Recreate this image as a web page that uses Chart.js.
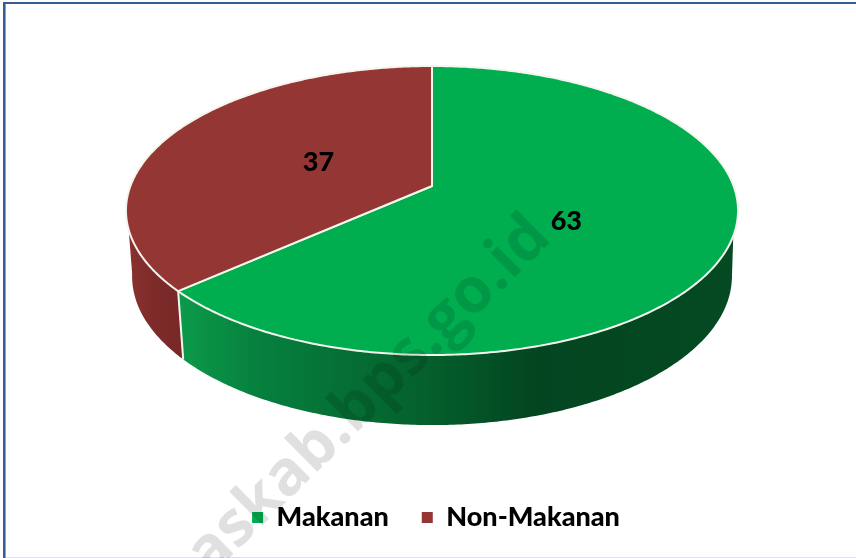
<!DOCTYPE html>
<html>
<head>
<meta charset="utf-8">
<style>html,body{margin:0;padding:0;background:#fff}canvas{display:block}</style>
<script src="https://cdn.jsdelivr.net/npm/chart.js@4/dist/chart.umd.js"></script>
</head>
<body>
<canvas id="c" width="856" height="558"></canvas>
<script>
const categories = ['Makanan', 'Non-Makanan'];
const values = [63, 37];
const topColors = ['#00AE50', '#943634'];
const watermark = 'askab.bps.go.id';

// projection of the flat pie onto the tilted disc
const CX = 432, APEX = 186, A = 301.6, B = 108.8, K = -0.1696, WARP = 1.8 * Math.PI / 180;
const rimScaleX = 0.98, rimScaleY = 1.03, rimShift = 65;
const labelRadius = [0.477, 0.42], labelShiftY = [6.5, 0];

function proj(a0, r) {
  const a = a0 + WARP * (1 + Math.sin(a0)) / 2;
  const u = Math.cos(a) * r, v = Math.sin(a) * r, w = 1 + K * v;
  return [CX + A * u / w, (B * v + APEX) / w];
}
function low(p) {
  return [CX + (p[0] - CX) * rimScaleX, APEX + (p[1] - APEX) * rimScaleY + rimShift];
}
function samples(s, e) {
  const n = Math.max(2, Math.ceil((e - s) / 0.01)), out = [];
  for (let i = 0; i <= n; i++) out.push(proj(s + (e - s) * i / n, 1));
  return out;
}
function sideFill(ctx, i) {
  if (i === 0) {
    const g = ctx.createLinearGradient(178, 0, 738, 0);
    g.addColorStop(0, '#0C9A4A');
    g.addColorStop(0.15, '#067F3D');
    g.addColorStop(0.45, '#045F2C');
    g.addColorStop(0.64, '#034520');
    g.addColorStop(1, '#044A22');
    return g;
  }
  const g = ctx.createLinearGradient(126, 0, 185, 0);
  g.addColorStop(0, '#8A3230');
  g.addColorStop(0.5, '#7C2B29');
  g.addColorStop(1, '#762827');
  return g;
}
function deg(d) { return d * Math.PI / 180; }
const pie3d = {
  id: 'pie3d',
  beforeDraw(chart) {
    const c = chart.ctx;
    c.save();
    c.fillStyle = '#365F91'; c.fillRect(3, 2, 853, 2); c.fillRect(3, 2, 2, 556);
    c.fillStyle = '#7FA3D6'; c.fillRect(5, 4, 1, 554);
    c.fillStyle = '#DFE1EE'; c.fillRect(6, 557, 850, 1);
    c.restore();
  },
  beforeDatasetsDraw(chart) {
    const c = chart.ctx, arcs = chart.getDatasetMeta(0).data, o = proj(0, 0);
    c.save();
    c.lineJoin = 'round';
    [1, 0].forEach(i => {
      const pts = samples(arcs[i].startAngle, arcs[i].endAngle);
      c.beginPath();
      pts.forEach((p, j) => j ? c.lineTo(p[0], p[1]) : c.moveTo(p[0], p[1]));
      pts.slice().reverse().forEach(p => { const q = low(p); c.lineTo(q[0], q[1]); });
      c.closePath();
      c.fillStyle = sideFill(c, i);
      c.fill();
    });
    // straight silhouette from the top rim down to the widest point of the lower rim
    [[1, 161.6, 170.2], [0, 18.4, 9.8]].forEach(([i, upper, widest]) => {
      const U = proj(deg(upper), 1), L = low(proj(deg(widest), 1));
      c.beginPath();
      c.moveTo(U[0], U[1]);
      c.lineTo(L[0], L[1]);
      c.lineTo(o[0], o[1]);
      c.closePath();
      c.fillStyle = sideFill(c, i);
      c.fill();
    });
    // white edge between the two side walls
    const b = proj(arcs[1].startAngle, 1), bl = low(b);
    c.strokeStyle = '#F4F6EE'; c.lineWidth = 2;
    c.beginPath(); c.moveTo(b[0], b[1]); c.lineTo(bl[0], bl[1]); c.stroke();
    arcs.forEach((arc, i) => {
      const pts = samples(arc.startAngle, arc.endAngle);
      c.beginPath();
      c.moveTo(o[0], o[1]);
      pts.forEach(p => c.lineTo(p[0], p[1]));
      c.closePath();
      c.fillStyle = topColors[i];
      c.fill();
      c.strokeStyle = '#F4F6EE'; c.lineWidth = 2;
      c.stroke();
    });
    c.restore();
    return false;
  },
  afterDraw(chart) {
    const c = chart.ctx, arcs = chart.getDatasetMeta(0).data;
    c.save();
    c.translate(210, 577);
    c.rotate(deg(-44.5));
    c.fillStyle = 'rgba(0,0,0,0.12)';
    c.font = 'bold 62.5px "Open Sans"';
    c.textBaseline = 'alphabetic';
    c.fillText(watermark, 0, 0);
    c.restore();
    c.save();
    c.fillStyle = '#000';
    c.font = '900 27px Lato';
    c.textAlign = 'center';
    c.textBaseline = 'middle';
    arcs.forEach((arc, i) => {
      const p = proj((arc.startAngle + arc.endAngle) / 2, labelRadius[i]);
      c.fillText(String(values[i]), p[0] - 1, p[1] + labelShiftY[i]);
    });
    c.restore();
  }
};
new Chart(document.getElementById('c'), {
  type: 'pie',
  data: {
    labels: categories,
    datasets: [{ data: values, backgroundColor: topColors, borderWidth: 0 }]
  },
  options: {
    responsive: false,
    animation: false,
    layout: { padding: { bottom: 17, left: 16 } },
    plugins: {
      tooltip: { enabled: false },
      legend: {
        position: 'bottom',
        labels: {
          boxWidth: 11, boxHeight: 11, padding: 33,
          color: '#000',
          font: { family: 'Lato', weight: '900', size: 27 }
        }
      }
    }
  },
  plugins: [pie3d]
});
</script>
</body>
</html>
